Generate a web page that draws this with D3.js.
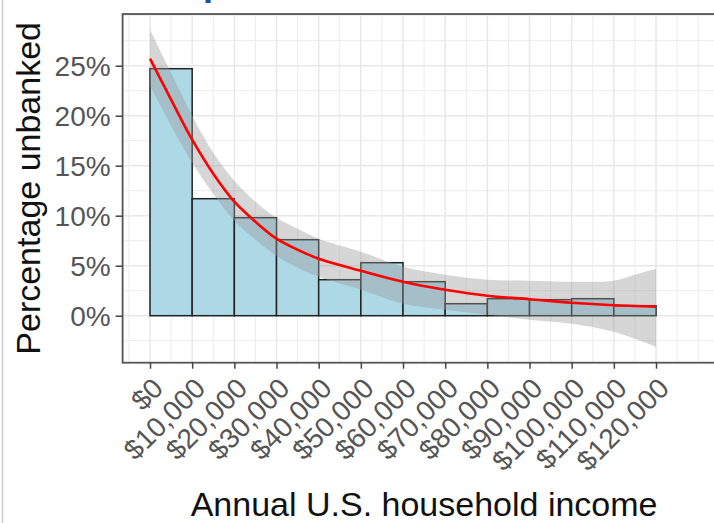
<!DOCTYPE html>
<html>
<head>
<meta charset="utf-8">
<script src="https://cdn.jsdelivr.net/npm/d3@7"></script>
<style>
  body { margin: 0; background: #fff; }
  text { font-family: "Liberation Sans", Arial, sans-serif; }
</style>
</head>
<body>
<div id="graph_container"></div>
<script>
// histogram bins (lower edge of each $10,000 bin) and share unbanked, in %
var binStart = [0, 10000, 20000, 30000, 40000, 50000, 60000, 70000, 80000, 90000, 100000, 110000, 120000];
var pctUnbanked = [24.7, 11.7, 9.8, 7.6, 3.6, 5.3, 3.4, 1.2, 1.7, 1.6, 1.7, 1.0, 0];
var binWidth = 10000;

// smoothed fit and its confidence band
var fitIncome = [0, 5000, 10000, 15000, 20000, 25000, 30000, 35000, 40000, 50000, 60000, 70000, 80000, 90000, 100000, 110000, 115000, 120000];
var fitPct   = [25.7, 21.6, 17.6, 14.2, 11.4, 9.4, 7.7, 6.6, 5.7, 4.5, 3.4, 2.6, 2.0, 1.65, 1.3, 1.05, 0.97, 0.9];
var fitUpper = [28.6, 24.3, 20.0, 16.3, 13.5, 11.4, 9.8, 8.7, 7.7, 6.4, 4.9, 4.1, 3.6, 3.5, 3.4, 3.5, 4.1, 4.7];
var fitLower = [23.0, 19.0, 15.3, 12.2, 9.5, 7.6, 6.0, 4.8, 3.9, 2.6, 1.2, 0.6, 0.1, -0.4, -0.8, -1.6, -2.3, -3.1];

// tick labels
var xTicks = [0, 10000, 20000, 30000, 40000, 50000, 60000, 70000, 80000, 90000, 100000, 110000, 120000];
var yTicks = [0, 5, 10, 15, 20, 25];

var w = 714, h = 523;
var panel = {left: 122.6, right: 725.6, top: 14, bottom: 362.7};

var xScale = d3.scaleLinear()
    .domain([-6500, 136500])
    .range([panel.left, panel.right]);

var yScale = d3.scaleLinear()
    .domain([-4.7, 30.17])
    .range([panel.bottom, panel.top]);

var svg = d3.select('#graph_container').append('svg')
    .attr("width", w)
    .attr("height", h);

svg.append("rect")
    .attr("width", w).attr("height", h)
    .attr("fill", "#fff");

// screenshot edge on the left
svg.append("line")
    .attr("x1", 2.5).attr("x2", 2.5)
    .attr("y1", 0).attr("y2", h)
    .attr("stroke", "#cfcfcf")
    .attr("stroke-width", 1.5);

// bit of the cropped title
svg.append("text")
    .attr("x", 203).attr("y", -5)
    .attr("fill", "#234c9a")
    .style("font-size", "36px")
    .style("font-weight", "bold")
    .text("p");

// grid: minor every 5k / 2.5%, major on the breaks
var xMinor = d3.range(-5000, 136000, 5000).filter(function(d) { return xTicks.indexOf(d) < 0; });
var yMinor = d3.range(-2.5, 30.1, 2.5).filter(function(d) { return yTicks.indexOf(d) < 0; });

var grid = svg.append("g");
grid.selectAll(".vminor").data(xMinor).enter().append("line")
    .attr("x1", function(d) { return xScale(d); })
    .attr("x2", function(d) { return xScale(d); })
    .attr("y1", panel.top).attr("y2", panel.bottom)
    .attr("stroke", "#ececec").attr("stroke-width", 1);
grid.selectAll(".hminor").data(yMinor).enter().append("line")
    .attr("x1", panel.left).attr("x2", panel.right)
    .attr("y1", function(d) { return yScale(d); })
    .attr("y2", function(d) { return yScale(d); })
    .attr("stroke", "#ececec").attr("stroke-width", 1);
grid.selectAll(".vmajor").data(xTicks).enter().append("line")
    .attr("x1", function(d) { return xScale(d); })
    .attr("x2", function(d) { return xScale(d); })
    .attr("y1", panel.top).attr("y2", panel.bottom)
    .attr("stroke", "#e8e8e8").attr("stroke-width", 1.5);
grid.selectAll(".hmajor").data(yTicks).enter().append("line")
    .attr("x1", panel.left).attr("x2", panel.right)
    .attr("y1", function(d) { return yScale(d); })
    .attr("y2", function(d) { return yScale(d); })
    .attr("stroke", "#e8e8e8").attr("stroke-width", 1.5);

// histogram bars
svg.append("g").selectAll("rect")
    .data(binStart)
    .enter()
    .append("rect")
        .attr("x", function(d) { return xScale(d); })
        .attr("width", function(d) { return xScale(d + binWidth) - xScale(d); })
        .attr("y", function(d, i) { return yScale(pctUnbanked[i]); })
        .attr("height", function(d, i) { return yScale(0) - yScale(pctUnbanked[i]); })
        .attr("fill", "#add8e6")
        .attr("stroke", "#222")
        .attr("stroke-width", 1.5);

var fitData = fitIncome.map(function(d, i) {
    return {x: d, y: fitPct[i], lo: fitLower[i], hi: fitUpper[i]};
});

// confidence band
svg.append("path")
    .datum(fitData)
    .attr("fill", "#999")
    .attr("fill-opacity", 0.4)
    .attr("d", d3.area()
        .curve(d3.curveCatmullRom)
        .x(function(d) { return xScale(d.x); })
        .y0(function(d) { return yScale(d.lo); })
        .y1(function(d) { return yScale(d.hi); }));

// fitted line
svg.append("path")
    .datum(fitData)
    .attr("fill", "none")
    .attr("stroke", "#ff0000")
    .attr("stroke-width", 2.6)
    .attr("d", d3.line()
        .curve(d3.curveCatmullRom)
        .x(function(d) { return xScale(d.x); })
        .y(function(d) { return yScale(d.y); }));

// panel border (right side runs off the picture)
svg.append("rect")
    .attr("x", panel.left).attr("y", panel.top)
    .attr("width", panel.right - panel.left)
    .attr("height", panel.bottom - panel.top)
    .attr("fill", "none")
    .attr("stroke", "#555")
    .attr("stroke-width", 1.8);

// y axis
var yAxis = svg.append("g")
    .attr("transform", "translate(" + panel.left + ",0)")
    .call(d3.axisLeft(yScale)
        .tickValues(yTicks)
        .tickSize(7)
        .tickPadding(5)
        .tickFormat(function(d) { return d + "%"; }));
yAxis.select(".domain").remove();
yAxis.selectAll("line").attr("stroke", "#444").attr("stroke-width", 1.5);
yAxis.selectAll("text")
    .attr("fill", "#555")
    .style("font-size", "28px")
    .attr("dy", "0.36em");

// x axis
var xAxis = svg.append("g")
    .attr("transform", "translate(0," + panel.bottom + ")")
    .call(d3.axisBottom(xScale)
        .tickValues(xTicks)
        .tickSize(6)
        .tickFormat(function(d) { return "$" + d3.format(",")(d); }));
xAxis.select(".domain").remove();
xAxis.selectAll("line").attr("stroke", "#444").attr("stroke-width", 1.5);
xAxis.selectAll("text")
    .attr("fill", "#555")
    .style("font-size", "28px")
    .style("text-anchor", "end")
    .attr("y", 0)
    .attr("dy", "0.72em")
    .attr("transform", "translate(0,13) rotate(-45)");

// axis titles
svg.append("text")
    .attr("x", (panel.left + panel.right) / 2)
    .attr("y", 516)
    .style("text-anchor", "middle")
    .style("font-size", "34px")
    .attr("fill", "#111")
    .text("Annual U.S. household income");

svg.append("text")
    .attr("transform", "rotate(-90)")
    .attr("x", -(panel.top + panel.bottom) / 2)
    .attr("y", 40)
    .style("text-anchor", "middle")
    .style("font-size", "34px")
    .attr("fill", "#111")
    .text("Percentage unbanked");
</script>
</body>
</html>
